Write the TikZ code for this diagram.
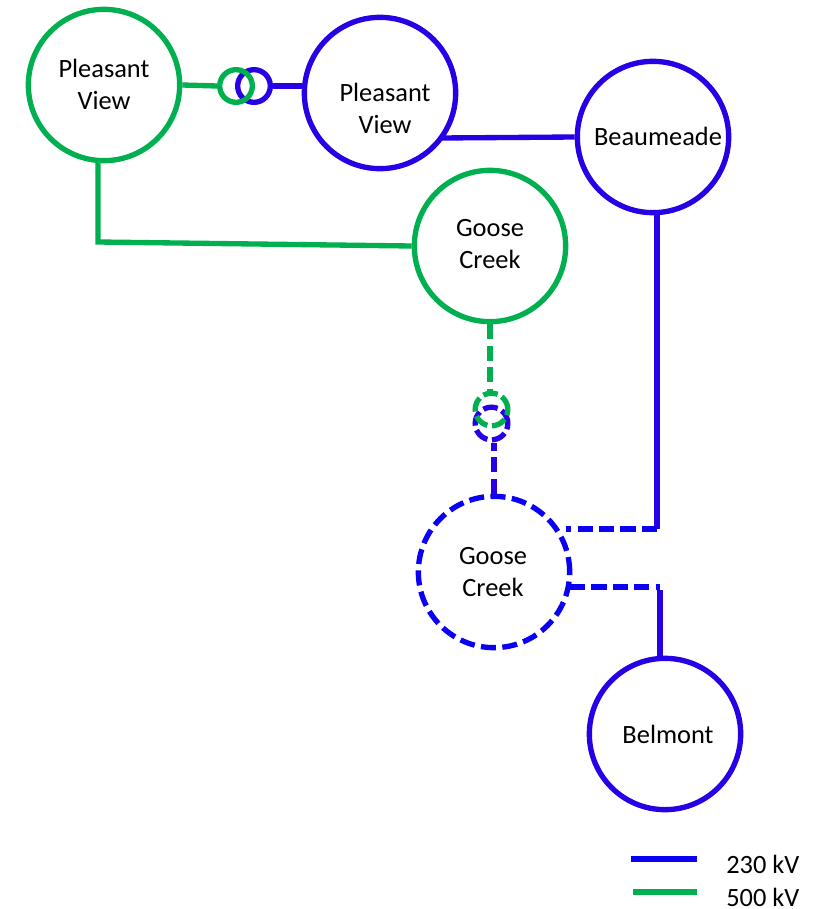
\documentclass[tikz,border=0pt]{standalone}
\usepackage{fontspec}
\setmainfont{Carlito}
\definecolor{gn}{RGB}{0,176,80}
\definecolor{bl}{RGB}{40,0,230}
\definecolor{bd}{RGB}{10,0,245}
\tikzset{
  x=0.75pt,y=-0.75pt,
  lw/.style={line width=4pt},
  dsh/.style={dash pattern=on 11.3pt off 4.8pt},
  sub/.style={circle,draw,lw,minimum size=113.5pt,inner sep=0pt},
  txt/.style={align=center,font=\fontsize{19.8}{24}\selectfont,text=black,inner sep=0pt},
  xf/.style={circle,draw,line width=4pt,minimum size=24.5pt,inner sep=0pt},
  lab/.style={font=\fontsize{19.8}{24}\selectfont,anchor=base west,inner sep=0pt,text=black},
}
\begin{document}
\begin{tikzpicture}
\useasboundingbox (0,0) rectangle (815,909);
\node[sub,draw=gn,label={[txt,shift={(0,-1)}]center:{Pleasant\\View}}] (pvg) at (104,85) {};
\node[sub,draw=bl,label={[txt,shift={(5,15)}]center:{Pleasant\\View}}] (pvb) at (380,93) {};
\node[sub,draw=bl,label={[txt,shift={(5,-1)}]center:Beaumeade}] (bea) at (653,137) {};
\node[sub,draw=gn,label={[txt,shift={(0,-2)}]center:{Goose\\Creek}}] (gcg) at (490,246) {};
\node[sub,draw=bd,dsh,label={[txt,shift={(-1,0)}]center:{Goose\\Creek}}] (gcb) at (494,572) {};
\node[sub,draw=bl,label={[txt,shift={(3,0)}]center:Belmont}] (bel) at (665,734) {};
% transformers
\node[xf,draw=bl] (t1b) at (254,86) {};
\node[xf,draw=gn] (t1g) at (236,86) {};
\node[xf,draw=bl,dash pattern=on 11pt off 3.5pt] (t2b) at (491.5,423.5) {};
\node[xf,draw=gn,dash pattern=on 11pt off 3.5pt] (t2g) at (491.5,409.5) {};
% connectors
\draw[lw,draw=gn] (pvg.east) -- (t1g.west);
\draw[lw,draw=bl] (t1b.east) -- (pvb.west |- t1b.east);
\coordinate (c1) at (98,242);
\coordinate (c0) at (98,161);
\draw[lw,draw=gn] (c0) -- (c1) -- (gcg.west);
\coordinate (c6) at (441,138);
\draw[lw,draw=bl] (c6) -- (bea.west);
\draw[lw,draw=gn,dsh] (gcg.south) -- (gcg.south |- t2g.north);
\draw[lw,draw=bl,dsh] (gcb.north) -- (gcb.north |- t2b.south);
\coordinate (c7) at (657,213);
\coordinate (c2) at (657,529);
\coordinate (c3) at (566,529);
\draw[lw,draw=bl] (c7) -- (c2);
\draw[lw,draw=bd,dsh] (c2) -- (c3);
\coordinate (c4) at (660,587);
\coordinate (c5) at (570,587);
\coordinate (c8) at (660,590);
\draw[lw,draw=bd,dsh] (c5) -- (c4);
\draw[lw,draw=bl] (c8) -- (bel.north -| c8);
% legend
\coordinate (l1a) at (631,859); \coordinate (l1b) at (697,859);
\coordinate (l2a) at (633,892); \coordinate (l2b) at (697,892);
\draw[lw,draw=bd] (l1a) -- (l1b);
\draw[lw,draw=gn] (l2a) -- (l2b);
\node[lab] (k1) at (726,873) {230 kV};
\node[lab] (k2) at (726,906) {500 kV};
\end{tikzpicture}
\end{document}
